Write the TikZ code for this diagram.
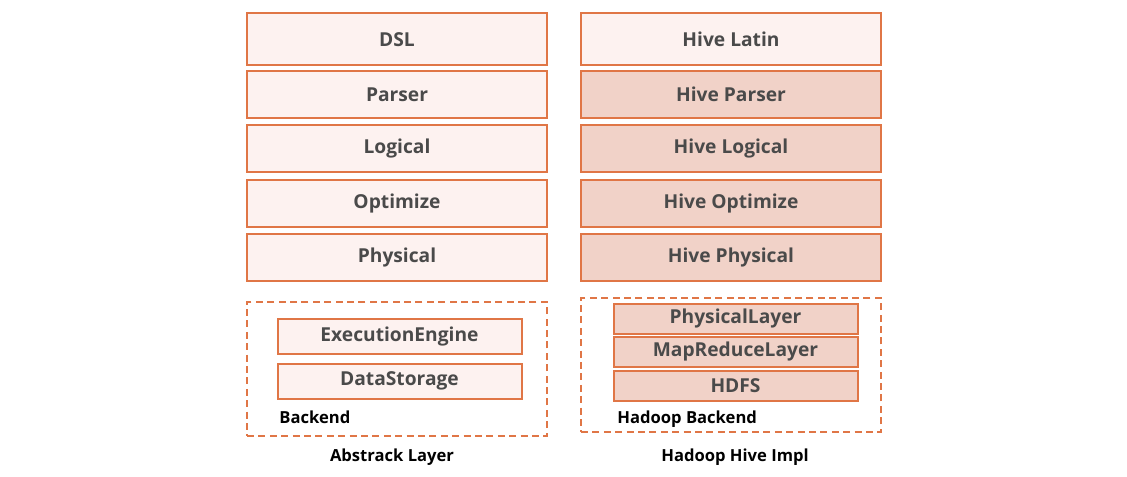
\documentclass[tikz,border=0pt]{standalone}
\usepackage{fontspec}
\setmainfont{Open Sans}
\usetikzlibrary{calc}
\definecolor{edge}{RGB}{224,118,70}
\definecolor{paleFill}{RGB}{253,242,240}
\definecolor{hiveFill}{RGB}{241,210,200}
\definecolor{boxText}{RGB}{74,74,74}

\begin{document}
\begin{tikzpicture}[x=0.5pt,y=-0.5pt,
	every node/.style={anchor=north west,inner sep=0pt},
	layer/.style={draw=edge,line width=1pt,fill=paleFill,minimum width=150pt,minimum height=23.5pt,text=boxText,font=\bfseries\fontsize{9.6}{12}\selectfont},
	hivelayer/.style={layer,fill=hiveFill},
	sublayer/.style={layer,minimum width=122pt,minimum height=17.5pt},
	hivesublayer/.style={sublayer,fill=hiveFill,minimum height=15pt},
	backendbox/.style={draw=edge,line width=1pt,dash pattern=on 3.5pt off 2.2pt,minimum width=150pt,minimum height=67pt},
	caption/.style={anchor=base,font=\bfseries\fontsize{8.3}{10}\selectfont},
	backendlabel/.style={caption,anchor=base west}]

	\useasboundingbox (0,0) rectangle (1127,476);

	% abstract layer
	\node[layer,minimum height=26pt] (dsl)      at (246,12.5) {DSL};
	\node[layer] (parser)   at (246,70)  {Parser};
	\node[layer] (logical)  at (246,124) {Logical};
	\node[layer] (optimize) at (246,179) {Optimize};
	\node[layer] (physical) at (246,233) {Physical};

	\node[backendbox] (absBackend) at (246,301) {};
	\node[sublayer] (engine)  at (276.5,318) {ExecutionEngine};
	\node[sublayer] (storage) at (276.5,362.5) {DataStorage};
	\node[backendlabel] (absBackendLabel) at (279,423) {Backend};
	\node[caption] (absCaption) at (392,461) {Abstrack Layer};

	% hadoop hive impl
	\node[layer,minimum height=26pt] (hiveLatin) at (580,12.5) {Hive Latin};
	\node[hivelayer] (hiveParser)   at (580,70)  {Hive Parser};
	\node[hivelayer] (hiveLogical)  at (580,124) {Hive Logical};
	\node[hivelayer] (hiveOptimize) at (580,179) {Hive Optimize};
	\node[hivelayer] (hivePhysical) at (580,233) {Hive Physical};

	\node[backendbox] (hadoopBackend) at (580,297) {};
	\node[hivesublayer] (physLayer) at (612.5,302.5) {PhysicalLayer};
	\node[hivesublayer] (mrLayer)   at (612.5,336)   {MapReduceLayer};
	\node[hivesublayer] (hdfs)      at (612.5,369.5) {HDFS};
	\node[backendlabel] (hadoopBackendLabel) at (617,423) {Hadoop Backend};
	\node[caption] (hadoopCaption) at (735,461) {Hadoop Hive Impl};

\end{tikzpicture}
\end{document}
